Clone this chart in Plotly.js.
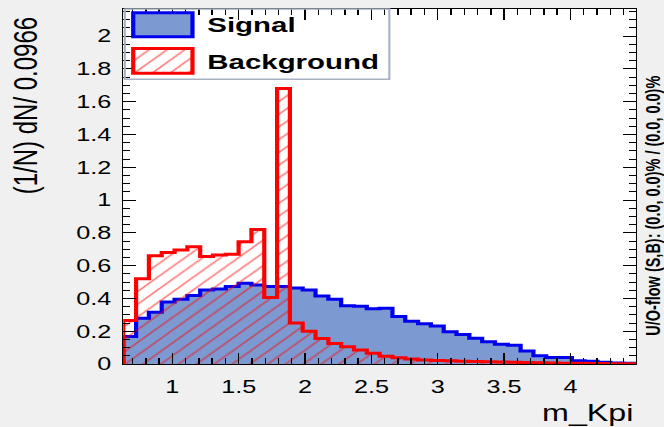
<!DOCTYPE html>
<html>
<head>
<meta charset="utf-8">
<script src="https://cdn.plot.ly/plotly-3.0.1.min.js"></script>
<style>
  html, body { margin: 0; padding: 0; background: #f0f0f0; overflow: hidden; }
  /* canvas drawn narrow, then widened like the ROOT canvas export */
  #chart { width: 474px; height: 427px; transform: scaleX(1.4008); transform-origin: 0 0; }
</style>
</head>
<body>
<div id="chart"></div>
<script>
// Histogram binning of m_Kpi (40 bins, width 0.0966)
const binLow = 0.63;
const binWidth = 0.0966;

// Normalised contents (1/N) dN per bin
const signal = [
  0.167, 0.279, 0.315, 0.378, 0.395, 0.418, 0.451, 0.458, 0.472, 0.493,
  0.482, 0.472, 0.472, 0.464, 0.451, 0.415, 0.395, 0.355, 0.352, 0.337,
  0.340, 0.290, 0.260, 0.246, 0.232, 0.197, 0.180, 0.157, 0.136, 0.120,
  0.115, 0.080, 0.050, 0.040, 0.040, 0.020, 0.017, 0.010, 0.006, 0.004
];
const background = [
  0.265, 0.520, 0.660, 0.680, 0.695, 0.715, 0.655, 0.665, 0.670, 0.745,
  0.820, 0.405, 1.680, 0.250, 0.200, 0.155, 0.125, 0.105, 0.085, 0.065,
  0.048, 0.038, 0.030, 0.025, 0.022, 0.020, 0.017, 0.015, 0.013, 0.012,
  0.010, 0.009, 0.007, 0.006, 0.005, 0.004, 0.003, 0.003, 0.002, 0.002
];

const seriesNames = ['Signal', 'Background'];
const xTitle = 'm_Kpi';
const yTitle = '(1/N) dN/ 0.0966';
const flowText = 'U/O-flow (S,B): (0.0, 0.0)% / (0.0, 0.0)%';

const nBins = signal.length;
const edges = Array.from({ length: nBins + 1 }, (_, i) => binLow + i * binWidth);
const stepX = [edges[0], ...edges, edges[nBins]];
const stepY = v => [0, ...v, v[v.length - 1], 0];

const FONT = 'Liberation Sans, Arial, Helvetica, sans-serif';
const sigFill = '#7d99d1', sigLine = '#0000ee', bkgLine = '#ff0000';
const hatch = { shape: '/', fgcolor: bkgLine, bgcolor: 'rgba(0,0,0,0)', fillmode: 'overlay', size: 9, solidity: 0.17 };

// paper coordinates of the legend parts
const leg = { x0: 0.003, x1: 0.519, y0: 0.802, y1: 1.0 };
const swX = [0.0194, 0.135];
const swSig = [0.922, 0.9896];
const swBkg = [0.819, 0.889];

const traces = [
  {
    type: 'scatter', x: stepX, y: stepY(signal), mode: 'lines',
    line: { shape: 'hv', color: sigLine, width: 3 },
    fill: 'tozeroy', fillcolor: sigFill,
    name: seriesNames[0], showlegend: false, hoverinfo: 'skip'
  },
  {
    type: 'scatter', x: stepX, y: stepY(background), mode: 'lines',
    line: { shape: 'hv', color: bkgLine, width: 3 },
    fill: 'tozeroy', fillcolor: 'rgba(0,0,0,0)', fillpattern: hatch,
    name: seriesNames[1], showlegend: false, hoverinfo: 'skip'
  },
  {
    // hatched legend swatch for the background entry
    type: 'bar', x: [0.5], y: [1], width: [1], xaxis: 'x2', yaxis: 'y2',
    marker: { color: 'rgba(0,0,0,0)', line: { width: 0 }, pattern: hatch },
    showlegend: false, hoverinfo: 'skip'
  }
];

const axisCommon = {
  showline: true, linecolor: '#000', linewidth: 1, mirror: 'allticks',
  ticks: 'inside', tickcolor: '#000', tickwidth: 1,
  showgrid: false, zeroline: false,
  tickfont: { family: FONT, size: 18, color: '#000' }
};

const layout = {
  width: 474, height: 427,
  margin: { l: 88, r: 20, t: 9, b: 63 },
  paper_bgcolor: '#f0f0f0', plot_bgcolor: '#ffffff',
  showlegend: false,
  xaxis: Object.assign({}, axisCommon, {
    range: [edges[0], edges[nBins]], tickmode: 'linear', tick0: 0, dtick: 0.5, ticklen: 11,
    minor: { tick0: 0, dtick: 0.1, ticks: 'inside', ticklen: 6, tickcolor: '#000', showgrid: false },
    ticklabelstandoff: 6
  }),
  yaxis: Object.assign({}, axisCommon, {
    range: [0, 2.165], tickmode: 'linear', tick0: 0, dtick: 0.2, ticklen: 9,
    minor: { tick0: 0, dtick: 0.05, ticks: 'inside', ticklen: 5, tickcolor: '#000', showgrid: false },
    ticklabelstandoff: 4
  }),
  xaxis2: { domain: swX, anchor: 'y2', range: [0, 1], visible: false, fixedrange: true },
  yaxis2: { domain: swBkg, anchor: 'x2', range: [0, 1], visible: false, fixedrange: true },
  bargap: 0,
  shapes: [
    { type: 'rect', xref: 'paper', yref: 'paper', x0: leg.x0, x1: leg.x1, y0: leg.y0, y1: leg.y1,
      line: { color: '#a7b1c4', width: 1.5 }, fillcolor: 'rgba(0,0,0,0)', layer: 'above' },
    { type: 'rect', xref: 'paper', yref: 'paper', x0: swX[0], x1: swX[1], y0: swSig[0], y1: swSig[1],
      line: { color: sigLine, width: 3 }, fillcolor: sigFill, layer: 'above' },
    { type: 'rect', xref: 'paper', yref: 'paper', x0: swX[0], x1: swX[1], y0: swBkg[0], y1: swBkg[1],
      line: { color: bkgLine, width: 3 }, fillcolor: 'rgba(0,0,0,0)', layer: 'above' }
  ],
  annotations: [
    { text: seriesNames[0], xref: 'paper', yref: 'paper', x: 0.159, y: 0.955, xanchor: 'left', yanchor: 'middle',
      showarrow: false, font: { family: FONT, size: 21, weight: 'bold', color: '#000' } },
    { text: seriesNames[1], xref: 'paper', yref: 'paper', x: 0.159, y: 0.8535, xanchor: 'left', yanchor: 'middle',
      showarrow: false, font: { family: FONT, size: 21, weight: 'bold', color: '#000' } },
    { text: xTitle, xref: 'paper', yref: 'paper', x: 1, y: -0.138, xanchor: 'right', yanchor: 'middle',
      showarrow: false, font: { family: FONT, size: 23, color: '#000' } },
    { text: yTitle, xref: 'paper', yref: 'paper', x: -0.192, y: 0.983, xanchor: 'center', yanchor: 'top',
      textangle: -90, showarrow: false, font: { family: FONT, size: 24, color: '#000' } },
    { text: flowText, xref: 'paper', yref: 'paper', x: 1.034, y: 0.075, xanchor: 'center', yanchor: 'bottom',
      textangle: -90, showarrow: false, font: { family: FONT, size: 14.5, weight: 'bold', color: '#000' } }
  ]
};

Plotly.newPlot('chart', traces, layout, { displayModeBar: false, staticPlot: true });
</script>
</body>
</html>
